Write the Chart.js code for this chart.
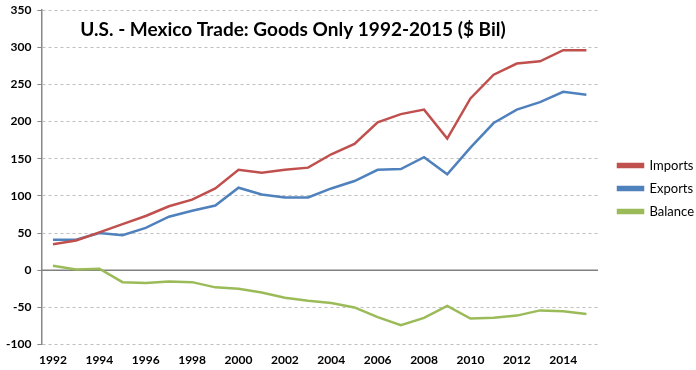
<!DOCTYPE html>
<html lang="en">
<head>
  <meta charset="UTF-8">
  <title>U.S. - Mexico Trade</title>
  <script src="https://cdn.jsdelivr.net/npm/chart.js"></script>
  <style>
    body { margin: 0; background: #fff; }
    #wrap { width: 696px; height: 370px; }
  </style>
</head>
<body>
  <div id="wrap"><canvas id="tradeChart" width="696" height="370"></canvas></div>

  <script>
    const years = ['1992','1993','1994','1995','1996','1997','1998','1999','2000','2001','2002','2003',
                   '2004','2005','2006','2007','2008','2009','2010','2011','2012','2013','2014','2015'];
    const imports = [35, 40, 51, 62, 73, 86, 95, 110, 135, 131, 135, 138,
                     156, 170, 199, 210, 216, 177, 231, 263, 278, 281, 296, 296];
    const exports = [41, 41, 50, 47, 57, 72, 80, 87, 111, 102, 98, 98,
                     110, 120, 135, 136, 152, 129, 165, 198, 216, 226, 240, 236];
    const balance = [6, 1, 2, -16, -17, -15, -16, -23, -25, -30, -37, -41,
                     -44, -50, -63, -74, -64, -48, -65, -64, -61, -54, -55, -59];

    const font = "Lato, 'Open Sans', sans-serif";

    // title sits inside the plot area, zero line drawn solid, legend nudged right
    const extras = {
      id: 'extras',
      afterLayout(chart) {
        chart.legend.left += 10;
        chart.legend.right += 10;
      },
      beforeDatasetsDraw(chart) {
        const c = chart.ctx, a = chart.chartArea, y = chart.scales.y.getPixelForValue(0);
        c.save();
        c.strokeStyle = '#808080';
        c.lineWidth = 1.5;
        c.beginPath();
        c.moveTo(a.left, y);
        c.lineTo(a.right, y);
        c.stroke();
        c.restore();
      },
      afterDraw(chart) {
        const c = chart.ctx;
        c.save();
        c.font = "bold 19px " + font;
        c.fillStyle = '#000';
        c.textAlign = 'center';
        c.textBaseline = 'middle';
        c.fillText('U.S. - Mexico Trade: Goods Only 1992-2015 ($ Bil)', 293, 30);
        c.restore();
      }
    };

    new Chart(document.getElementById('tradeChart'), {
      type: 'line',
      data: {
        labels: years,
        datasets: [
          { label: 'Imports', data: imports, borderColor: '#C0504D', backgroundColor: '#C0504D' },
          { label: 'Exports', data: exports, borderColor: '#4F81BD', backgroundColor: '#4F81BD' },
          { label: 'Balance', data: balance, borderColor: '#9BBB59', backgroundColor: '#9BBB59' }
        ]
      },
      options: {
        responsive: false,
        animation: false,
        elements: {
          line: { borderWidth: 2.5, tension: 0 },
          point: { radius: 0 }
        },
        layout: { padding: { top: 10, right: 2, left: 0, bottom: 3 } },
        plugins: {
          legend: {
            position: 'right',
            labels: {
              boxWidth: 25,
              boxHeight: 3,
              padding: 10,
              color: '#000',
              font: { family: font, size: 13 }
            }
          },
          tooltip: { enabled: false }
        },
        scales: {
          x: {
            offset: true,
            grid: { display: false },
            border: { display: false },
            ticks: {
              autoSkip: false,
              maxRotation: 0,
              padding: 0,
              color: '#000',
              font: { family: font, size: 12, weight: 'bold' },
              callback: (v, i) => i % 2 === 0 ? years[i] : ''
            }
          },
          y: {
            min: -100,
            max: 350,
            afterFit: s => { s.paddingTop = 0; },
            ticks: {
              stepSize: 50,
              color: '#000',
              padding: 6,
              font: { family: font, size: 12, weight: 'bold' }
            },
            grid: {
              color: ctx => ctx.tick && ctx.tick.value === 0 ? 'rgba(0,0,0,0)' : '#BFBFBF',
              tickColor: '#888',
              tickLength: 4
            },
            border: { color: '#888', width: 1.5, dash: [3, 3] }
          }
        }
      },
      plugins: [extras]
    });
  </script>
</body>
</html>
